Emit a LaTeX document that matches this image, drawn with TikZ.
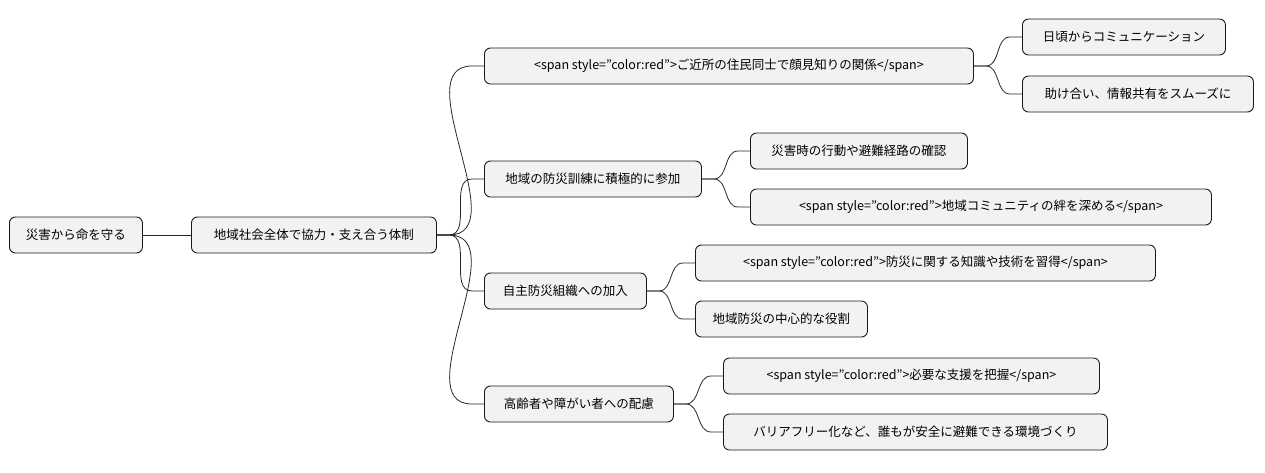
\documentclass[tikz,border=0pt]{standalone}
\usepackage{fontspec}
\setmainfont{Noto Sans CJK JP}
\begin{document}
\begin{tikzpicture}[x=1pt,y=-1pt,
  box/.style={draw=black!90,fill=black!5,rounded corners=6pt,line width=0.9pt,minimum height=36pt,anchor=west,inner sep=0pt,font=\fontsize{12.5}{14}\selectfont},
  con/.style={draw=black!85,line width=0.8pt}]
\useasboundingbox (0,0) rectangle (1265,472);
\newcommand{\bx}[5]{\node[box,minimum width=#3] (#1) at (#2,#4) {#5};}
\bx{root}{9}{133}{235}{災害から命を守る}
\bx{l1}{191}{245}{235}{地域社会全体で協力・支え合う体制}
\bx{a}{484}{489}{66}{<span style="color:red">ご近所の住民同士で顔見知りの関係</span>}
\bx{a1}{1022}{203}{37}{日頃からコミュニケーション}
\bx{a2}{1022}{231}{94}{助け合い、情報共有をスムーズに}
\bx{b}{484}{217}{179}{地域の防災訓練に積極的に参加}
\bx{b1}{750}{217}{151}{災害時の行動や避難経路の確認}
\bx{b2}{750}{461}{207}{<span style="color:red">地域コミュニティの絆を深める</span>}
\bx{c}{484}{162}{291}{自主防災組織への加入}
\bx{c1}{695}{460}{263}{<span style="color:red">防災に関する知識や技術を習得</span>}
\bx{c2}{695}{172}{319}{地域防災の中心的な役割}
\bx{d}{484}{189}{404}{高齢者や障がい者への配慮}
\bx{d1}{723}{376}{376}{<span style="color:red">必要な支援を把握</span>}
\bx{d2}{723}{384}{432}{バリアフリー化など、誰もが安全に避難できる環境づくり}
\draw[con] (root.east) -- (l1.west);
\foreach \p/\c in {l1/a,l1/b,l1/c,l1/d,a/a1,a/a2,b/b1,b/b2,c/c1,c/c2,d/d1,d/d2}{
  \draw[con] (\p.east) -- ++(12,0) to[out=0,in=180] ([xshift=-12pt]\c.west) -- (\c.west);
}
\end{tikzpicture}
\end{document}
